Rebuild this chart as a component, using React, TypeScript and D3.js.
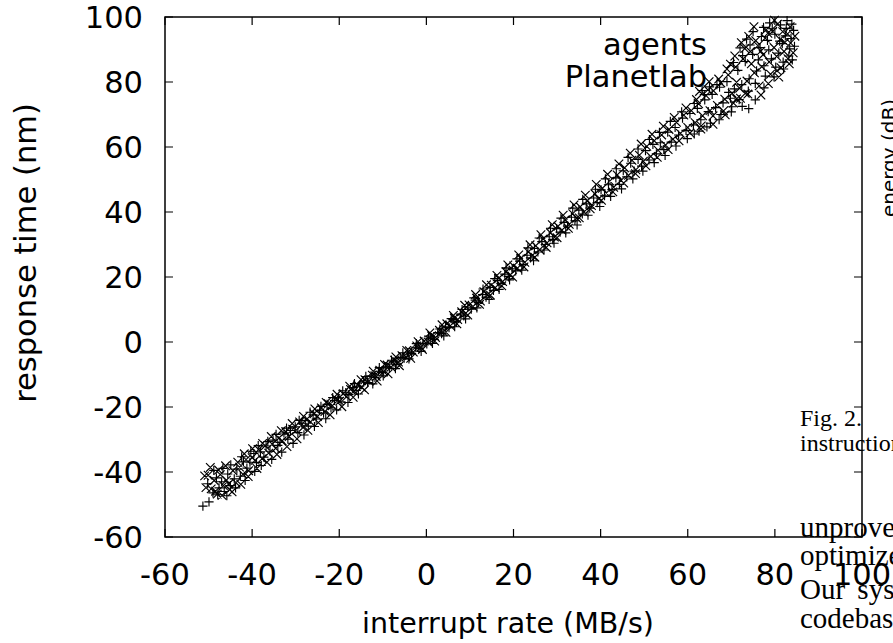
import React from 'react';
import * as d3 from 'd3';

const xTicks = [-60, -40, -20, 0, 20, 40, 60, 80, 100];
const yTicks = [-60, -40, -20, 0, 20, 40, 60, 80, 100];
const legendLabels = ['agents', 'Planetlab'];
const xTitle = 'interrupt rate (MB/s)';
const yTitle = 'response time (nm)';
const sideLabel = 'energy (dB)';
const captionLines = ['Fig. 2.', 'instructions'];
const bodyLines = ['unproven', 'optimized', 'Our system', 'codebase'];

// series 1 ("+" markers), main band
const agentsCore: [number, number][] = [
  [-51.3, -50.5], [-49.9, -49.2], [-50.2, -43.6], [-49.0, -46.4], [-48.2, -41.8], [-47.6, -44.9], [-47.0, -43.0],
  [-46.4, -46.0], [-45.6, -40.6], [-45.0, -44.2], [-44.1, -42.1], [-43.5, -39.1], [-42.7, -41.3], [-42.0, -36.9],
  [-41.2, -38.8], [-40.5, -37.0], [-39.6, -34.3], [-39.0, -37.1], [-38.1, -33.8], [-37.3, -35.4], [-36.8, -32.0],
  [-35.9, -33.6], [-35.2, -30.2], [-34.1, -31.8], [-33.6, -30.9], [-32.7, -28.0], [-31.8, -29.9], [-31.2, -27.2],
  [-30.1, -26.1], [-29.5, -27.9], [-28.6, -25.0], [-27.8, -24.2], [-27.1, -25.9], [-26.0, -22.4], [-25.3, -23.7],
  [-24.5, -21.0], [-23.6, -21.9], [-22.8, -19.2], [-21.9, -20.3], [-21.1, -18.0], [-20.2, -17.2], [-19.6, -18.4],
  [-18.5, -15.6], [-17.8, -16.2], [-16.9, -14.0], [-16.1, -14.9], [-15.3, -13.6], [-14.4, -12.0], [-13.5, -12.5],
  [-12.7, -10.4], [-11.8, -10.9], [-11.0, -9.0], [-10.2, -9.4], [-9.3, -7.6], [-8.5, -8.0], [-7.6, -6.1],
  [-6.8, -6.9], [-6.0, -4.8], [-5.1, -5.0], [-4.3, -3.3], [-3.4, -3.5], [-2.5, -1.6], [-1.7, -2.0], [-0.8, -0.4],
  [0.1, -0.6], [0.9, 1.2], [1.8, 0.8], [2.6, 2.9], [3.5, 2.6], [4.4, 4.7], [5.2, 4.4], [6.1, 6.8], [6.9, 6.2],
  [7.8, 8.6], [8.6, 8.0], [9.5, 10.7], [10.3, 10.1], [11.2, 12.9], [12.0, 12.2], [12.9, 14.6], [13.7, 13.8],
  [14.6, 16.8], [15.4, 15.9], [16.3, 18.9], [17.1, 18.0], [18.0, 20.9], [18.8, 20.2], [19.7, 22.5], [20.5, 21.9],
  [21.4, 24.9], [22.2, 23.8], [23.1, 26.7], [23.9, 25.9], [24.8, 28.8], [25.6, 27.7], [26.5, 30.9], [27.3, 30.0],
  [28.2, 32.4], [29.0, 31.5], [29.9, 34.9], [30.7, 33.8], [31.6, 36.8], [32.4, 35.7], [33.3, 38.4], [34.1, 37.3],
  [35.0, 40.6], [35.8, 39.4], [36.7, 42.5], [37.5, 41.2], [38.4, 44.3], [39.2, 42.9], [40.1, 46.8], [40.9, 45.0],
  [41.8, 48.4], [42.6, 46.9], [43.5, 50.5], [44.3, 48.5], [45.2, 52.7], [46.0, 50.8], [46.9, 55.0], [47.7, 52.6],
  [48.6, 56.2], [49.4, 54.1], [50.3, 58.9], [51.1, 56.0], [52.0, 60.8], [52.8, 57.9], [53.7, 61.3], [54.5, 59.2],
  [55.4, 64.6], [56.2, 61.5], [57.1, 66.0], [57.9, 63.7], [58.8, 68.9], [59.6, 65.1], [60.5, 70.3], [61.3, 66.8],
  [62.2, 71.9], [63.0, 68.4], [63.9, 74.5], [64.7, 70.9], [65.6, 76.2], [66.4, 72.1], [67.3, 78.4], [68.1, 73.6],
  [69.0, 80.1], [69.8, 75.0], [70.7, 77.9], [71.5, 83.6], [72.4, 79.2], [73.2, 86.3], [74.1, 81.0], [74.9, 88.5],
  [75.8, 83.4], [76.6, 90.6], [77.5, 85.0], [78.3, 92.8], [79.2, 87.1], [80.0, 94.7], [80.9, 88.9], [81.7, 91.8],
  [82.6, 96.5], [83.4, 90.2], [83.9, 97.8],
];

// series 1 ("+" markers), scattered edge points
const agentsEdge: [number, number][] = [
  [-48.8, -39.5], [-47.9, -47.0], [-46.7, -38.9], [-45.8, -47.3], [-44.9, -37.8], [-43.8, -44.9], [-42.4, -35.3],
  [-41.6, -42.6], [-40.3, -33.6], [-39.4, -39.8], [-38.6, -31.9], [-37.9, -38.0], [-36.4, -30.6], [-35.5, -36.1],
  [-34.5, -28.4], [-33.2, -33.9], [-32.1, -26.5], [-30.6, -31.2], [-29.2, -24.1], [-28.1, -28.6], [-26.7, -21.6],
  [-25.7, -26.0], [-24.2, -19.8], [-23.1, -23.6], [-21.5, -17.1], [-20.6, -20.9], [-19.2, -15.0], [-18.0, -18.6],
  [-16.5, -12.8], [-15.6, -16.0], [-13.9, -10.6], [-12.3, -12.9], [-10.8, -7.9], [-9.9, -10.4], [-8.0, -5.6],
  [-7.1, -8.2], [-5.4, -3.3], [-4.0, -5.2], [-2.3, -0.5], [-1.2, -2.9], [0.5, 1.8], [1.4, -0.4], [3.1, 4.0],
  [4.0, 1.9], [5.7, 7.2], [6.5, 4.7], [8.2, 10.0], [9.0, 7.1], [10.9, 13.6], [11.6, 10.5], [13.0, 16.3],
  [14.4, 13.1], [15.7, 19.5], [16.7, 16.2], [18.3, 22.8], [19.1, 19.1], [20.8, 25.6], [21.9, 22.1], [23.3, 29.0],
  [24.6, 25.0], [25.9, 32.0], [27.0, 28.3], [28.5, 35.0], [29.3, 30.4], [30.9, 38.1], [32.0, 33.6], [33.6, 41.2],
  [34.6, 36.0], [35.9, 43.9], [37.1, 39.0], [38.8, 47.0], [39.8, 41.7], [41.1, 50.2], [42.3, 44.8], [43.6, 53.3],
  [44.8, 47.1], [46.3, 56.8], [47.4, 50.2], [48.6, 59.4], [49.7, 52.6], [51.2, 62.3], [52.3, 55.2], [53.5, 64.5],
  [54.8, 57.4], [56.0, 67.9], [57.3, 60.3], [58.6, 70.8], [59.9, 62.6], [61.5, 73.4], [62.6, 64.9], [63.8, 76.1],
  [65.2, 67.3], [66.7, 79.2], [67.6, 70.0], [69.4, 76.8], [70.1, 72.4], [71.8, 74.6], [72.6, 88.1], [73.9, 77.2],
  [74.3, 91.4], [75.5, 79.6], [76.2, 86.8], [76.9, 94.0], [77.8, 81.8], [78.6, 89.9], [79.4, 96.4], [80.2, 84.6],
  [81.1, 92.6], [81.9, 86.1], [82.4, 94.2], [83.2, 88.0], [83.7, 93.4], [84.3, 95.9], [84.5, 91.0],
];

// series 1 ("+" markers), upper-right cloud
const agentsTop: [number, number][] = [
  [61.5, 64.0], [64.4, 66.2], [67.2, 68.4], [70.0, 70.8], [72.5, 72.5], [74.0, 71.8], [75.5, 74.5],
  [77.5, 78.2], [79.8, 81.6], [70.5, 86.0], [72.0, 90.5], [73.5, 93.2], [75.0, 95.5], [77.4, 96.8],
  [78.8, 98.2], [81.3, 97.6], [82.8, 98.9], [84.0, 86.8], [82.0, 84.0], [63.3, 77.4], [65.0, 78.5],
];

// series 2 ("x" markers), main band
const planetlabCore: [number, number][] = [
  [-50.9, -41.2], [-50.1, -41.0], [-49.4, -45.2], [-48.7, -42.6], [-48.0, -46.8], [-47.3, -40.8], [-46.6, -44.2],
  [-45.9, -42.5], [-45.2, -45.4], [-44.4, -39.6], [-43.7, -43.3], [-42.9, -38.5], [-42.1, -40.7], [-41.4, -36.2],
  [-40.8, -39.6], [-40.0, -35.6], [-39.3, -36.4], [-38.5, -33.1], [-37.7, -35.9], [-37.0, -31.9], [-36.2, -34.2],
  [-35.4, -31.4], [-34.6, -32.7], [-33.9, -29.6], [-33.1, -30.4], [-32.3, -27.6], [-31.5, -29.1], [-30.7, -26.8],
  [-29.9, -27.2], [-29.1, -24.6], [-28.3, -26.3], [-27.5, -23.8], [-26.6, -24.6], [-25.8, -22.1], [-25.0, -22.9],
  [-24.1, -20.3], [-23.3, -21.4], [-22.5, -19.0], [-21.6, -19.6], [-20.8, -17.4], [-19.9, -18.2], [-19.1, -15.9],
  [-18.3, -16.8], [-17.4, -14.6], [-16.6, -15.1], [-15.8, -13.2], [-14.9, -13.9], [-14.1, -11.6], [-13.2, -12.0],
  [-12.4, -10.2], [-11.5, -10.6], [-10.7, -8.7], [-9.8, -9.1], [-9.0, -7.1], [-8.1, -7.7], [-7.3, -5.6],
  [-6.4, -6.2], [-5.6, -4.2], [-4.7, -4.6], [-3.9, -2.7], [-3.0, -3.1], [-2.2, -1.2], [-1.3, -1.6], [-0.5, 0.3],
  [0.4, 0.0], [1.2, 1.9], [2.1, 1.4], [3.0, 3.6], [3.8, 3.2], [4.7, 5.6], [5.5, 5.0], [6.4, 7.4], [7.2, 6.9],
  [8.1, 9.3], [9.0, 8.8], [9.8, 11.4], [10.7, 10.9], [11.5, 13.5], [12.4, 12.6], [13.2, 15.5], [14.1, 14.6],
  [14.9, 17.5], [15.8, 16.7], [16.6, 19.6], [17.5, 18.6], [18.3, 21.6], [19.2, 20.6], [20.0, 23.4], [20.9, 22.7],
  [21.7, 25.7], [22.6, 24.5], [23.4, 27.7], [24.3, 26.6], [25.1, 29.6], [26.0, 28.4], [26.8, 31.7], [27.7, 30.5],
  [28.5, 33.6], [29.4, 32.3], [30.2, 35.6], [31.1, 34.4], [31.9, 37.6], [32.8, 36.2], [33.6, 39.5], [34.5, 38.1],
  [35.3, 41.6], [36.2, 40.0], [37.0, 43.5], [37.9, 42.0], [38.7, 45.6], [39.6, 44.1], [40.4, 47.3], [41.3, 45.8],
  [42.1, 49.5], [43.0, 47.6], [43.8, 51.4], [44.7, 49.7], [45.5, 53.6], [46.4, 51.3], [47.2, 55.9], [48.1, 53.0],
  [48.9, 57.5], [49.8, 55.6], [50.6, 60.2], [51.5, 57.1], [52.3, 61.9], [53.2, 59.0], [54.0, 63.7], [54.9, 60.6],
  [55.7, 65.4], [56.6, 62.4], [57.4, 67.6], [58.3, 64.2], [59.1, 69.8], [60.0, 66.0], [60.8, 71.2], [61.7, 67.5],
  [62.5, 73.3], [63.4, 69.6], [64.2, 75.8], [65.1, 71.2], [65.9, 77.3], [66.8, 72.8], [67.6, 79.7], [68.5, 74.7],
  [69.3, 82.2], [70.2, 76.5], [71.0, 84.6], [71.9, 78.1], [72.7, 87.1], [73.6, 80.3], [74.4, 89.4], [75.3, 82.8],
  [76.1, 91.2], [77.0, 84.7], [77.8, 93.5], [78.7, 86.2], [79.5, 95.6], [80.4, 87.9], [81.2, 93.1], [82.1, 89.4],
  [82.9, 94.8], [83.6, 92.0],
];

// series 2 ("x" markers), scattered edge points
const planetlabEdge: [number, number][] = [
  [-50.6, -44.8], [-49.6, -38.6], [-48.4, -45.9], [-47.7, -39.4], [-46.9, -47.2], [-46.1, -38.1], [-45.4, -43.7],
  [-44.6, -46.1], [-43.3, -37.0], [-42.6, -43.8], [-41.8, -34.4], [-40.9, -41.4], [-39.9, -32.8], [-38.9, -38.9],
  [-37.6, -31.2], [-36.6, -37.0], [-35.6, -29.1], [-34.3, -34.6], [-33.3, -27.3], [-32.0, -32.2], [-30.8, -25.1],
  [-29.7, -29.8], [-28.2, -22.9], [-27.2, -27.2], [-25.6, -20.6], [-24.8, -24.8], [-23.0, -18.6], [-22.1, -22.4],
  [-20.5, -16.1], [-19.4, -19.9], [-17.6, -13.6], [-16.8, -17.0], [-15.0, -11.6], [-14.2, -14.7], [-12.2, -9.0],
  [-11.3, -12.0], [-9.6, -6.9], [-8.8, -9.8], [-7.0, -4.6], [-6.2, -7.3], [-4.5, -2.6], [-3.6, -5.0], [-1.9, 0.1],
  [-0.9, -2.3], [0.8, 2.8], [1.9, 0.3], [3.6, 5.3], [4.5, 3.0], [6.2, 8.2], [7.0, 5.6], [8.8, 11.3], [9.5, 8.3],
  [11.3, 14.6], [12.2, 11.6], [13.8, 17.6], [14.7, 14.4], [16.2, 20.5], [17.3, 17.3], [18.7, 23.7], [19.8, 20.0],
  [21.2, 26.8], [22.4, 23.1], [23.8, 29.9], [24.9, 26.1], [26.3, 33.0], [27.5, 29.1], [28.9, 36.1], [30.0, 32.1],
  [31.4, 39.0], [32.6, 35.0], [33.9, 42.2], [35.1, 38.2], [36.5, 45.2], [37.6, 41.0], [39.0, 48.5], [40.2, 43.6],
  [41.6, 51.6], [42.8, 46.2], [44.2, 54.8], [45.3, 48.9], [46.8, 58.1], [48.0, 51.8], [49.3, 60.9], [50.4, 54.2],
  [51.8, 63.9], [53.0, 56.8], [54.4, 66.4], [55.5, 59.2], [56.9, 69.1], [58.0, 61.9], [59.6, 72.0], [60.5, 64.3],
  [62.0, 74.6], [63.1, 66.5], [64.6, 77.6], [65.8, 69.6], [67.1, 80.9], [68.2, 71.1], [69.8, 85.5], [70.5, 73.5],
  [71.2, 79.9], [72.1, 75.0], [73.1, 90.3], [73.8, 76.3], [74.6, 85.6], [75.6, 92.7], [76.4, 78.8], [77.3, 88.4],
  [78.0, 96.1], [79.0, 82.4], [79.8, 90.6], [80.6, 97.8], [81.4, 84.4], [82.3, 92.2], [83.0, 87.2], [83.5, 97.0],
  [84.2, 89.0], [84.6, 94.1],
];

// series 2 ("x" markers), upper-right cloud
const planetlabTop: [number, number][] = [
  [63.0, 65.5], [65.8, 67.0], [68.6, 69.9], [71.2, 74.8], [73.2, 76.5], [76.8, 76.0], [78.5, 79.5],
  [80.5, 83.5], [69.0, 84.0], [70.8, 88.0], [72.3, 92.1], [74.0, 94.0], [75.2, 97.0], [76.8, 89.5],
  [78.4, 95.0], [79.9, 99.0], [81.8, 95.5], [83.3, 85.6], [80.9, 81.5], [62.7, 77.1], [64.9, 80.1],
];

const W = 893;
const H = 643;
const L = 165, R = 862, T = 17, B = 537;
const SANS = '"DejaVu Sans", "Liberation Sans", sans-serif';
const SERIF = '"Liberation Serif", "DejaVu Serif", serif';
const FS = 30.5;

export default function App() {
  const x = d3.scaleLinear().domain([-60, 100]).range([L, R]);
  const y = d3.scaleLinear().domain([-60, 100]).range([B, T]);
  const tl = 8;

  const agents = agentsCore.concat(agentsEdge, agentsTop);
  const planetlab = planetlabCore.concat(planetlabEdge, planetlabTop);

  const plusPath = agents
    .map(([a, b]) => {
      const px = x(a), py = y(b);
      return `M${px - 4.6},${py}h9.2M${px},${py - 4.6}v9.2`;
    })
    .join('');
  const crossPath = planetlab
    .map(([a, b]) => {
      const px = x(a), py = y(b);
      return `M${px - 4.3},${py - 4.3}l8.6,8.6M${px - 4.3},${py + 4.3}l8.6,-8.6`;
    })
    .join('');

  const tickPath =
    xTicks.map((t) => `M${x(t)},${B}v${-tl}M${x(t)},${T}v${tl}`).join('') +
    yTicks.map((t) => `M${L},${y(t)}h${tl}M${R},${y(t)}h${-tl}`).join('');

  return (
    <svg
      width={W}
      height={H}
      viewBox={`0 0 ${W} ${H}`}
      style={{ position: 'absolute', left: 0, top: 0, overflow: 'hidden', background: '#fff' }}
    >
      <rect x={0} y={0} width={W} height={H} fill="#fff" />
      <path d={tickPath} stroke="#000" strokeWidth={1.2} fill="none" />
      <rect x={L} y={T} width={R - L} height={B - T} fill="none" stroke="#000" strokeWidth={1.5} />
      <g fontFamily={SANS} fontSize={FS} fill="#000">
        {yTicks.map((t) => (
          <text key={'y' + t} x={143} y={y(t)} dy="0.36em" textAnchor="end">{t}</text>
        ))}
        {xTicks.map((t) => (
          <text key={'x' + t} x={x(t)} y={585} textAnchor="middle">{t}</text>
        ))}
        <text x={508} y={633} textAnchor="middle" fontSize={28.5}>{xTitle}</text>
        <text transform={`translate(36,${253}) rotate(-90)`} textAnchor="middle">{yTitle}</text>
        <text x={707} y={55} textAnchor="end">{legendLabels[0]}</text>
        <text x={707} y={87} textAnchor="end">{legendLabels[1]}</text>
      </g>
      <path d={plusPath} stroke="#000" strokeWidth={1.15} fill="none" />
      <path d={crossPath} stroke="#000" strokeWidth={1.15} fill="none" />
      <text transform="translate(896,158) rotate(-90)" textAnchor="middle" fontFamily={SANS} fontSize={20} fill="#000">
        {sideLabel}
      </text>
      <g fontFamily={SERIF} fill="#000">
        <text x={800} y={426} fontSize={24}>{captionLines[0]}</text>
        <text x={800} y={451} fontSize={24}>{captionLines[1]}</text>
        <text x={800} y={537} fontSize={29}>{bodyLines[0]}</text>
        <text x={800} y={565} fontSize={29}>{bodyLines[1]}</text>
        <text x={800} y={599} fontSize={29} wordSpacing={5}>{bodyLines[2]}</text>
        <text x={800} y={628} fontSize={29}>{bodyLines[3]}</text>
      </g>
    </svg>
  );
}
